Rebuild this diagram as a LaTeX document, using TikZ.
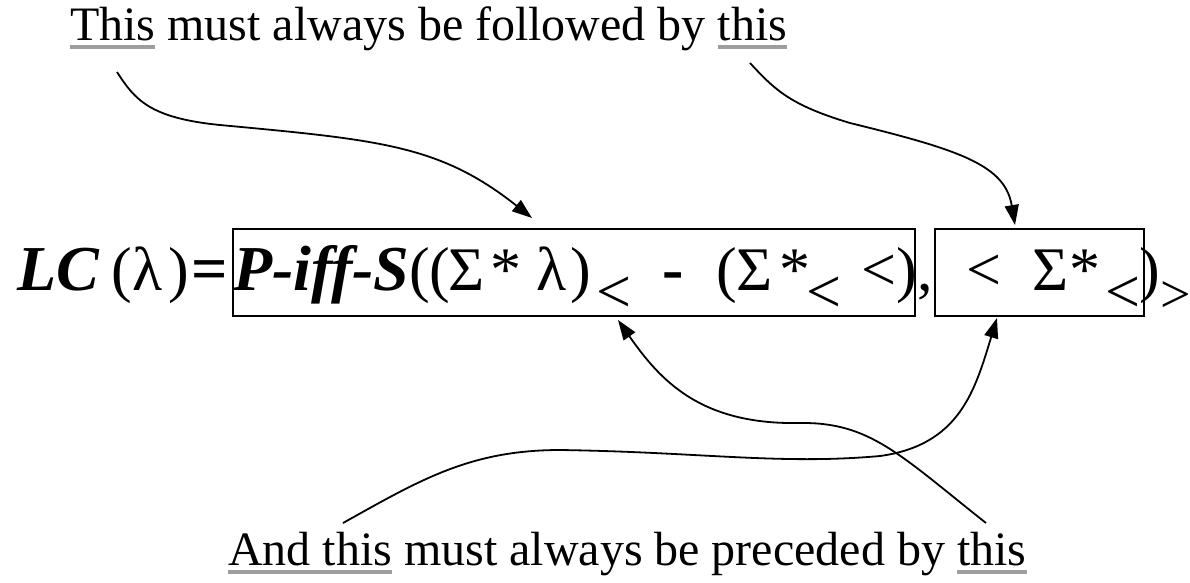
\documentclass[tikz,border=0pt]{standalone}
\usepackage{fontspec}
\setmainfont{Liberation Serif}
\usetikzlibrary{arrows.meta}
\definecolor{ulgray}{gray}{0.62}
\newcommand\gul[1]{\setbox0\hbox{#1}\rlap{\color{ulgray}\rule[-9pt]{\wd0}{4pt}}\box0\relax}
\begin{document}
\begin{tikzpicture}[x=1pt,y=-1pt,
  lbl/.style={font=\fontsize{48}{56}\selectfont, inner sep=0pt, outer sep=0pt, anchor=base west},
  fm/.style={font=\fontsize{62}{70}\selectfont, inner sep=0pt, outer sep=0pt, anchor=base west},
  fbi/.style={fm, font=\fontsize{64}{70}\selectfont\bfseries\itshape},
  fbd/.style={fm, font=\fontsize{64}{70}\selectfont\bfseries},
  frame/.style={draw, line width=2pt, inner sep=0pt, minimum height=87pt},
  arr/.style={line width=1.8pt, -{Triangle[length=20pt,width=14pt]}}]
\useasboundingbox (0,0) rectangle (1190,582);
% labels
\node[lbl] (top) at (70,40) {\gul{This} must always be followed by \gul{this}};
\node[lbl] (bot) at (228,565) {\gul{And this} must always be preceded by \gul{this}};
% boxes
\node[frame, minimum width=682pt] (b1) at (574,272.5) {};
\node[frame, minimum width=209pt] (b2) at (1039.5,272.5) {};
% formula
\node[fbi] (f1) at (17,290) {LC};
\node[fm] (f2) at (111,290) {(};
\node[fm] (f3) at (132,290) {λ};
\node[fm] (f4) at (168,290) {)};
\node[fbd] (f5) at (191,290) {=};
\node[fbi] (f6) at (233,290) {P-iff-S};
\node[fm] (f7) at (409,290) {((};
\node[fm] (f8) at (448,290) {Σ};
\node[fm] (f9) at (490,290) {*};
\node[fm] (f10) at (536,290) {λ};
\node[fm] (f11) at (570,290) {)};
\node[fm] (f12) at (596,312) {<};
\node[fbd] (f13) at (662,290) {-};
\node[fm] (f14) at (716,290) {(};
\node[fm] (f15) at (736,290) {Σ};
\node[fm] (f16) at (779,290) {*};
\node[fm] (f17) at (806,312) {<};
\node[fm] (f18) at (861,290) {<};
\node[fm] (f19) at (896,290) {)};
\node[fm] (f20) at (917,290) {,};
\node[fm] (f21) at (966,290) {<};
\node[fm] (f22) at (1032,290) {Σ};
\node[fm] (f23) at (1069,290) {*};
\node[fm] (f24) at (1105,312) {<};
\node[fm] (f25) at (1139,290) {)};
\node[fm, font=\fontsize{54}{60}\selectfont] (f26) at (1160,312) {>};
% arrow end points
\coordinate (s1) at (117,72);
\coordinate (m1) at (220,125);
\coordinate (e1) at (532,218);
\coordinate (s2) at (750,63);
\coordinate (m2) at (850,123);
\coordinate (e2) at (1015,225);
\coordinate (s3) at (986,523);
\coordinate (m3) at (800,423);
\coordinate (e3) at (618,320);
\coordinate (s4) at (343,523);
\coordinate (m4) at (560,450);
\coordinate (n4) at (880,456);
\coordinate (e4) at (997,318);
\draw[arr] (s1) .. controls (135,100) and (150,118) .. (m1) .. controls (380,140) and (440,145) .. (e1);
\draw[arr] (s2) .. controls (775,90) and (790,105) .. (m2) .. controls (960,150) and (1005,165) .. (e2);
\draw[arr] (s3) .. controls (900,455) and (870,422) .. (m3) .. controls (700,425) and (660,380) .. (e3);
\draw[arr] (s4) .. controls (420,480) and (470,450) .. (m4) .. controls (700,452) and (780,465) .. (n4) .. controls (960,445) and (975,390) .. (e4);
\end{tikzpicture}
\end{document}
